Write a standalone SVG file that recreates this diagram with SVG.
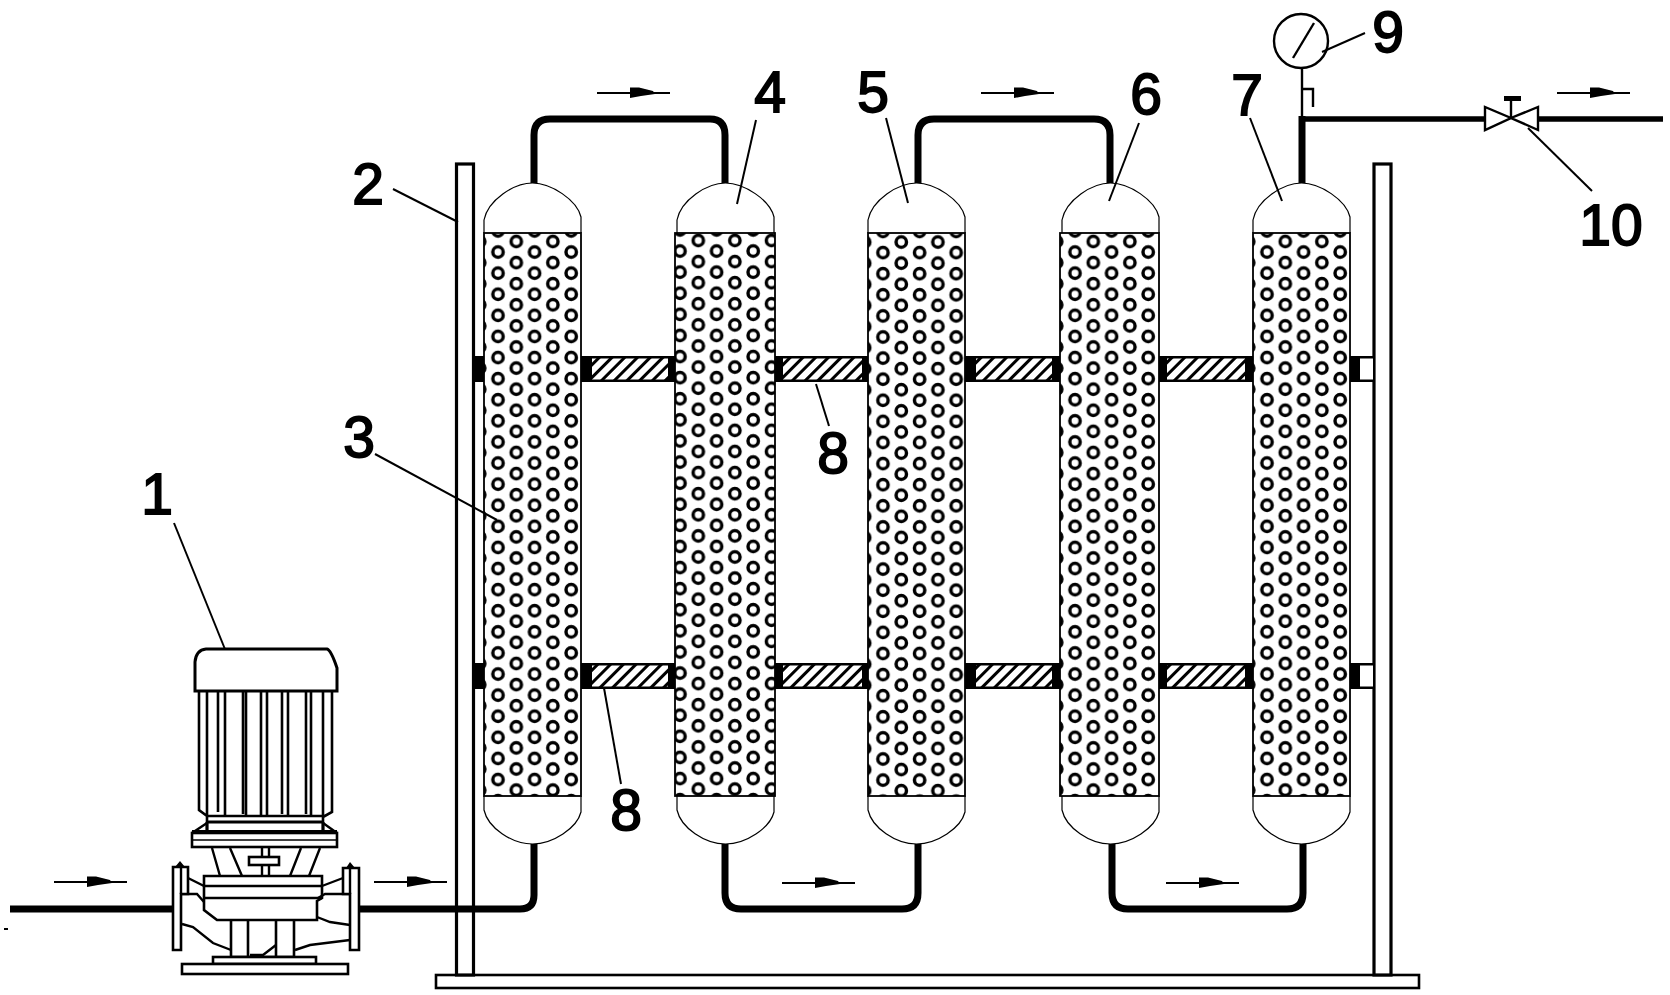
<svg xmlns="http://www.w3.org/2000/svg" xmlns:xlink="http://www.w3.org/1999/xlink" width="1670" height="995" viewBox="0 0 1670 995">
<style>
.bg{fill:#fff}
.pipe{fill:none;stroke:#000;stroke-width:7}
.thin{fill:none;stroke:#000;stroke-width:1.6}
.med{fill:none;stroke:#000;stroke-width:2.4}
.heavy{fill:none;stroke:#000;stroke-width:3.2}
.wfill{fill:#fff;stroke:#000;stroke-width:2.6}
.shell{fill:#fff;stroke:#000;stroke-width:1.2}
.blk{fill:#000}
.lead{fill:none;stroke:#000;stroke-width:2}
.lbl{font-family:"Liberation Sans",Arial,sans-serif;font-size:57px;fill:#000;stroke:#000;stroke-width:1.8;text-anchor:middle}
</style>
<defs>
<pattern id="pk" patternUnits="userSpaceOnUse" width="36.6" height="21.1">
<rect width="36.6" height="21.1" fill="#fff"/>
<g fill="none" stroke="#000" stroke-width="3.4">
<circle cx="9.15" cy="10.55" r="5.2"/>
<circle cx="27.45" cy="0" r="5.2"/>
<circle cx="27.45" cy="21.1" r="5.2"/>
</g>
</pattern>
<pattern id="pk1" href="#pk" xlink:href="#pk" patternTransform="translate(488.85,241.5)"/>
<pattern id="pk2" href="#pk" xlink:href="#pk" patternTransform="translate(670.85,240.5)"/>
<pattern id="pk3" href="#pk" xlink:href="#pk" patternTransform="translate(892.15,231.5)"/>
<pattern id="pk4" href="#pk" xlink:href="#pk" patternTransform="translate(1065.85,241.5)"/>
<pattern id="pk5" href="#pk" xlink:href="#pk" patternTransform="translate(1257.85,241.5)"/>
<pattern id="hatch" patternUnits="userSpaceOnUse" width="9" height="9" patternTransform="rotate(45)">
<rect width="9" height="9" fill="#fff"/>
<rect width="3" height="9" fill="#000"/>
</pattern>
<path id="domes" d="M0 233V220C4 200 30 183 48.5 183C67 183 93 200 97 217V233M0 796V810C4 828 28 844 48.5 844C69 844 93 828 97 812V796" class="shell"/>
<g id="flow">
<line x1="0" y1="0" x2="73" y2="0" stroke="#000" stroke-width="2"/>
<path d="M33 -5.5L42 -5.5L56 -2L58 1L44 3L33 5Z" fill="#000"/>
</g>
</defs>
<rect class="bg" width="1670" height="995"/>

<g id="frame">
<rect class="wfill" x="436" y="975" width="983" height="13"/>
<rect class="heavy" x="456.5" y="164" width="17" height="811" style="fill:#fff"/>
<rect class="heavy" x="1374" y="164" width="17" height="811" style="fill:#fff"/>
</g>

<g id="spacers">
<g id="spacer-row-top">
<rect class="blk" x="475" y="356" width="10" height="26"/>
<rect class="blk" x="581" y="356" width="94" height="26"/><rect fill="url(#hatch)" x="592" y="358.5" width="76" height="21"/>
<rect class="blk" x="775" y="356" width="94" height="26"/><rect fill="url(#hatch)" x="783" y="358.5" width="79" height="21"/>
<rect class="blk" x="965" y="356" width="95" height="26"/><rect fill="url(#hatch)" x="976" y="358.5" width="76" height="21"/>
<rect class="blk" x="1158" y="356" width="95" height="26"/><rect fill="url(#hatch)" x="1167" y="358.5" width="78" height="21"/>
<rect class="blk" x="1348" y="356" width="25" height="26"/><rect fill="#fff" x="1360" y="358.5" width="13" height="21"/>
</g>
<g id="spacer-row-bottom">
<rect class="blk" x="475" y="663" width="10" height="26"/>
<rect class="blk" x="581" y="663" width="94" height="26"/><rect fill="url(#hatch)" x="592" y="665.5" width="76" height="21"/>
<rect class="blk" x="775" y="663" width="94" height="26"/><rect fill="url(#hatch)" x="783" y="665.5" width="79" height="21"/>
<rect class="blk" x="965" y="663" width="95" height="26"/><rect fill="url(#hatch)" x="976" y="665.5" width="76" height="21"/>
<rect class="blk" x="1158" y="663" width="95" height="26"/><rect fill="url(#hatch)" x="1167" y="665.5" width="78" height="21"/>
<rect class="blk" x="1348" y="663" width="25" height="26"/><rect fill="#fff" x="1360" y="665.5" width="13" height="21"/>
</g>
</g>

<g id="column-1"><use href="#domes" xlink:href="#domes" x="484"/><rect class="shell" x="484" y="233" width="97" height="563" style="fill:url(#pk1);stroke-width:1.8"/></g>
<g id="column-2"><use href="#domes" xlink:href="#domes" x="677"/><rect class="shell" x="675" y="233" width="100" height="563" style="fill:url(#pk2);stroke-width:1.8"/></g>
<g id="column-3"><use href="#domes" xlink:href="#domes" x="868"/><rect class="shell" x="868" y="233" width="97" height="563" style="fill:url(#pk3);stroke-width:1.8"/></g>
<g id="column-4"><use href="#domes" xlink:href="#domes" x="1062"/><rect class="shell" x="1060" y="233" width="99" height="563" style="fill:url(#pk4);stroke-width:1.8"/></g>
<g id="column-5"><use href="#domes" xlink:href="#domes" x="1253"/><rect class="shell" x="1253" y="233" width="97" height="563" style="fill:url(#pk5);stroke-width:1.8"/></g>

<g id="connectors">
<path class="pipe" d="M10 909H173M359 909H520Q534 909 534 895V844"/>
<path class="pipe" d="M534 183V135Q534 119 550 119H710Q725 119 725 135V183"/>
<path class="pipe" d="M918 183V135Q918 119 934 119H1094Q1110 119 1110 135V183"/>
<path class="pipe" d="M725 844V893Q725 909 741 909H902Q918 909 918 893V844"/>
<path class="pipe" d="M1112 844V893Q1112 909 1128 909H1287Q1303 909 1303 893V844"/>
<path class="pipe" d="M1302 183V116"/>
<path class="pipe" style="stroke-width:5.5" d="M1299 119H1485M1538 119H1663"/>
<use href="#flow" xlink:href="#flow" x="54" y="882"/>
<use href="#flow" xlink:href="#flow" x="374" y="882"/>
<use href="#flow" xlink:href="#flow" x="597" y="93"/>
<use href="#flow" xlink:href="#flow" x="981" y="93"/>
<use href="#flow" xlink:href="#flow" x="782" y="883"/>
<use href="#flow" xlink:href="#flow" x="1166" y="883"/>
<use href="#flow" xlink:href="#flow" x="1557" y="93"/>
<g id="leaders">
<path class="lead" d="M174 523L235 674"/>
<path class="lead" d="M393 189L458 222"/>
<path class="lead" d="M375 454L497 520"/>
<path class="lead" d="M756 120L737 204"/>
<path class="lead" d="M886 118L908 203"/>
<path class="lead" d="M1139 123L1109 201"/>
<path class="lead" d="M1250 118L1282 201"/>
<path class="lead" d="M816 384L829 426"/>
<path class="lead" d="M604 688L621 784"/>
<path class="lead" d="M1322 52L1365 33"/>
<path class="lead" d="M1528 128L1592 191"/>
</g>
</g>

<g id="pump">
<path class="wfill" d="M195 691V662Q196 650 206 649H327Q331 650 337 668V691Z" style="stroke-width:3"/>
<path class="heavy" style="stroke-width:2.6" d="M199 691V810L207 816M207 691V822M218 691V812M225 691V816M243 691V814M246 691V816M261 691V816M267 691V816M282 691V814M288 691V816M306 691V814M311 691V816M323 691V822M332 691V812L323 817"/>
<path class="med" d="M207 816H323"/>
<path class="heavy" d="M207 822H323M207 822V832M323 822V832"/>
<path class="med" d="M192 833L207 823M337 833L323 823"/>
<rect class="wfill" x="192" y="833" width="145" height="14"/>
<path class="heavy" style="stroke-width:4" d="M192 832H337"/>
<path class="thin" d="M192 840H337"/>
<path class="med" d="M212 848L220 876M230 848L242 876M301 848L290 876M320 848L309 876"/>
<path class="med" d="M262 848V876M269 848V876"/>
<rect class="wfill" x="249" y="857" width="30" height="8"/>
<path class="wfill" d="M204 876H322V898L317 901V920H217L204 910Z"/>
<path class="med" d="M204 886H322M204 898H322"/>
<path class="med" d="M188 878L204 886M181 894H197L204 902M182 924L193 927L213 943L231 950"/>
<path class="med" d="M322 886L343 878M318 898L325 894H350M317 917L330 922L350 925M295 950L310 945L350 940"/>
<path class="wfill" d="M173 867H188V894H181V950H173Z"/>
<path class="wfill" d="M343 868H359V950H350V894H343Z"/>
<path class="med" d="M181 867V894M350 868V894"/>
<path class="blk" d="M175 867L180 861L185 867ZM346 868L350 862L355 868Z"/>
<path class="wfill" d="M231 920V957H294V920M248 920V957M276 920V957" style="fill:none"/>
<path class="med" d="M250 955H263L276 945"/>
<rect class="wfill" x="213" y="957" width="103" height="7"/>
<rect class="wfill" x="182" y="964" width="166" height="10"/>
</g>

<g id="gauge">
<circle class="med" cx="1301" cy="41" r="27"/>
<path class="med" d="M1293 58L1314 23"/>
<path class="med" d="M1302 67V119"/>
<path class="med" d="M1303 89H1313V107"/>
</g>

<g id="valve">
<path class="med" d="M1485 107V130L1511 118ZM1538 107V130L1511 118Z" style="fill:#fff"/>
<path class="med" d="M1511 118V98"/>
<path class="blk" d="M1504 96H1521V101H1504Z"/>
</g>

<g id="speck"><rect class="blk" x="4" y="928" width="4" height="2"/></g>

<g id="labels">
<text class="lbl" x="157" y="514">1</text>
<text class="lbl" x="368" y="204">2</text>
<text class="lbl" x="359" y="457">3</text>
<text class="lbl" x="770" y="112">4</text>
<text class="lbl" x="873" y="112">5</text>
<text class="lbl" x="1146" y="114">6</text>
<text class="lbl" x="1247" y="115">7</text>
<text class="lbl" x="833" y="473">8</text>
<text class="lbl" x="626" y="830">8</text>
<text class="lbl" x="1388" y="52">9</text>
<text class="lbl" x="1611" y="245">10</text>
</g>
</svg>
